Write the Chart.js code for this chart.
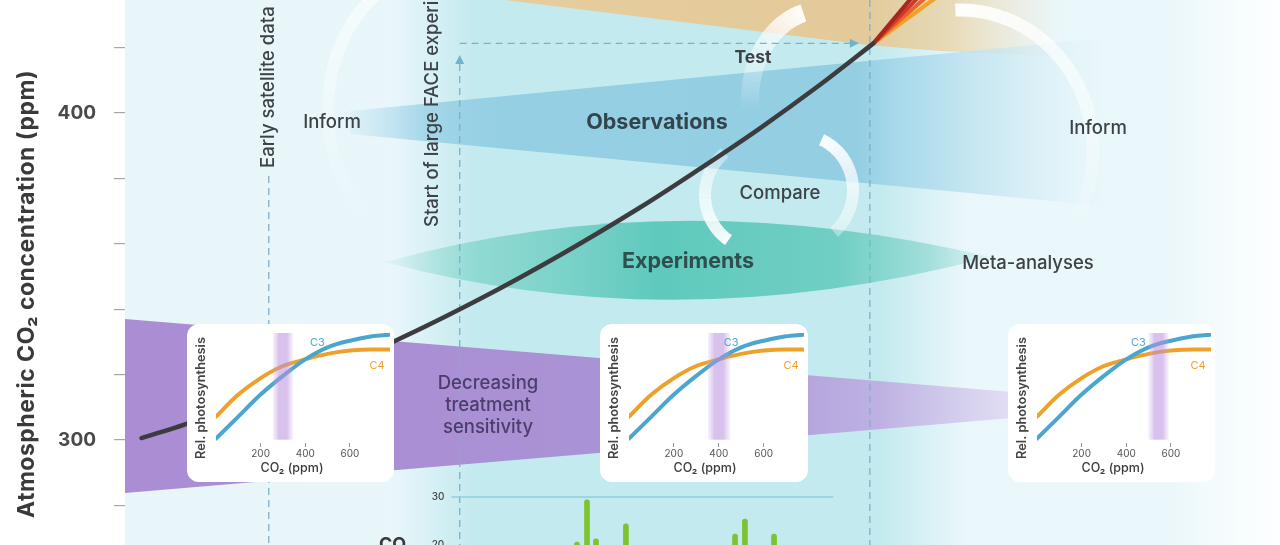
<!DOCTYPE html>
<html><head><meta charset="utf-8">
<script src="https://cdn.jsdelivr.net/npm/chart.js@4.4.1/dist/chart.umd.min.js"></script>
<style>
html,body{margin:0;padding:0;background:#fff;overflow:hidden}
#wrap{position:relative;width:1280px;height:545px;overflow:hidden}
#main{position:absolute;left:0;top:0}
.inset{position:absolute;background:#fff;border-radius:12px;overflow:hidden}
.inset canvas{display:block}
</style></head>
<body>
<div id="wrap">
  <canvas id="main" width="1280" height="545"></canvas>
  <div class="inset" style="left:187px;top:324px;width:207px;height:158px"><canvas id="in1" width="207" height="158"></canvas></div>
  <div class="inset" style="left:600px;top:324px;width:208px;height:158px"><canvas id="in2" width="208" height="158"></canvas></div>
  <div class="inset" style="left:1008px;top:324px;width:207px;height:158px"><canvas id="in3" width="207" height="158"></canvas></div>
</div>
<script>
// ---------------- data ----------------
const years = [1961.4, 1965.1, 1974.0, 1982.9, 1990.1, 1996.9, 2003.7, 2008.8, 2013.9, 2019.0, 2023.5];
const co2   = [300.6, 304.8, 316.5, 330.3, 343.1, 356.5, 371.1, 383.0, 395.4, 408.7, 421.3];
const projYears = [2029.0, 2029.9, 2031.0, 2032.5];
const projEndCo2 = 445;
const yTickValues = [280, 300, 320, 340, 360, 380, 400, 420];
const yTickLabels = [300, 400];
const satelliteYear = 1972.2;
const faceYear = 1988.4;
const nowYear = 2023.2;
const fertYears  = [1998.35, 1999.2, 1999.96, 2002.5, 2011.76, 2012.6, 2015.07];
const fertValues = [20.6, 29.4, 21.3, 24.4, 22.3, 25.4, 22.3];
const fertRefYears = [1987.7, 2020.1];
const fertRefValues = [30, 30];
const fertTickLabels = [30, 20];
// inset curves
const insetPpm = [0, 100, 200, 300, 400, 500, 600, 700, 775];
const c3Rel = [0.04, 0.24, 0.44, 0.61, 0.76, 0.87, 0.93, 0.97, 0.985];
const c4Rel = [0.24, 0.44, 0.59, 0.70, 0.76, 0.81, 0.84, 0.85, 0.85];
const insetTicks = [200, 400, 600];
const bands = [[255, 345], [352, 450], [500, 590]];
const c3LabelAt = [455, 0.91];
const c4LabelAt = [722, 0.70];

const FONT = 'Inter, "Open Sans", "DejaVu Sans", sans-serif';
const TXT = '#3d4246';

// ---------------- helpers ----------------
function fadeArc(ctx, cx, cy, rx, ry, a0, a1, w, al0, al1) {
  const N = 48;
  ctx.save();
  ctx.lineWidth = w; ctx.strokeStyle = '#ffffff'; ctx.lineCap = 'butt';
  for (let i = 0; i < N; i++) {
    const t0 = i / N, t1 = (i + 1.08) / N;
    const b0 = (a0 + (a1 - a0) * t0) * Math.PI / 180;
    const b1 = (a0 + (a1 - a0) * Math.min(t1, 1)) * Math.PI / 180;
    ctx.globalAlpha = al0 + (al1 - al0) * t0;
    ctx.beginPath();
    ctx.ellipse(cx, cy, rx, ry, 0, Math.min(b0, b1), Math.max(b0, b1));
    ctx.stroke();
  }
  ctx.restore();
}
function hGrad(ctx, x0, x1, stops) {
  const g = ctx.createLinearGradient(x0, 0, x1, 0);
  stops.forEach(s => g.addColorStop(s[0], s[1]));
  return g;
}
function dashedLine(ctx, x0, y0, x1, y1) {
  ctx.save();
  ctx.strokeStyle = '#78b3c8'; ctx.lineWidth = 1.3; ctx.setLineDash([7, 5]);
  ctx.beginPath(); ctx.moveTo(x0, y0); ctx.lineTo(x1, y1); ctx.stroke();
  ctx.restore();
}
function label(ctx, text, x, y, font, color, align) {
  ctx.save();
  ctx.font = font; ctx.fillStyle = color || TXT;
  ctx.textAlign = align || 'center'; ctx.textBaseline = 'middle';
  ctx.fillText(text, x, y);
  ctx.restore();
}
function vlabel(ctx, text, x, y, font, color, align, spacing) {
  ctx.save();
  ctx.translate(x, y); ctx.rotate(-Math.PI / 2);
  ctx.font = font; ctx.fillStyle = color || TXT;
  if (spacing) ctx.letterSpacing = spacing;
  ctx.textAlign = align || 'left'; ctx.textBaseline = 'middle';
  ctx.fillText(text, 0, 0);
  ctx.restore();
}

// ---------------- background / schematic plugin ----------------
const schematic = {
  id: 'schematic',
  beforeDraw(chart) {
    const ctx = chart.ctx;
    const {left, right, top, bottom} = chart.chartArea;
    const X = v => chart.scales.x.getPixelForValue(v);
    const Y = v => chart.scales.y.getPixelForValue(v);
    ctx.save();
    ctx.fillStyle = '#ffffff'; ctx.fillRect(0, 0, chart.width, chart.height);
    // pale background
    ctx.fillStyle = hGrad(ctx, left, right, [[0, '#e8f6fa'], [0.9, '#eaf7fb'], [0.965, '#f8fdfe'], [1, '#fcfeff']]);
    ctx.fillRect(left, top, right - left, bottom - top);
    // cyan experiment period
    const fx = X(faceYear), nx = X(nowYear);
    ctx.fillStyle = hGrad(ctx, fx - 65, nx + 95, [[0, 'rgba(195,234,238,0)'], [0.14, '#c3eaee'], [0.85, '#c3eaee'], [1, 'rgba(195,234,238,0)']]);
    ctx.fillRect(fx - 65, top, nx - fx + 160, bottom - top);

    // tan projection wedge
    ctx.fillStyle = hGrad(ctx, 505, 1065, [[0, '#e6cd9e'], [0.64, '#e4ca9a'], [0.8, 'rgba(233,212,168,0.8)'], [1, 'rgba(240,226,196,0)']]);
    ctx.beginPath();
    ctx.moveTo(505, 0); ctx.lineTo(X(nowYear), Y(co2[co2.length - 1]) + 2); ctx.lineTo(940, 51); ctx.lineTo(1065, 57); ctx.lineTo(1065, 0);
    ctx.closePath(); ctx.fill();

    // blue observations wedge
    ctx.fillStyle = hGrad(ctx, 350, 1105, [[0, 'rgba(165,212,232,0.15)'], [0.1, 'rgba(148,206,228,0.75)'], [0.2, '#94cfe4'], [0.67, '#93cee3'], [0.72, '#a6d8ea'], [0.86, 'rgba(195,229,241,0.7)'], [1, 'rgba(215,238,246,0)']]);
    ctx.beginPath();
    ctx.moveTo(350, 111); ctx.lineTo(1105, 38); ctx.lineTo(1105, 206); ctx.lineTo(350, 134);
    ctx.closePath(); ctx.fill();

    // teal experiments lens
    ctx.fillStyle = hGrad(ctx, 385, 990, [[0, 'rgba(140,215,205,0.1)'], [0.15, 'rgba(128,212,202,0.75)'], [0.45, '#5fc9bd'], [0.75, '#70cfc4'], [0.9, 'rgba(140,215,208,0.7)'], [1, 'rgba(160,222,215,0.2)']]);
    ctx.beginPath();
    ctx.moveTo(385, 262); ctx.quadraticCurveTo(675, 182, 990, 257); ctx.quadraticCurveTo(675, 340, 385, 262);
    ctx.closePath(); ctx.fill();

    // purple treatment sensitivity band
    ctx.fillStyle = hGrad(ctx, left, 1012, [[0, '#ab8dd4'], [0.35, '#aa8fd4'], [0.65, '#a995d6'], [0.85, '#beb1e2'], [1, 'rgba(222,216,242,0.8)']]);
    ctx.beginPath();
    ctx.moveTo(left, 319); ctx.lineTo(1012, 392); ctx.lineTo(1012, 418); ctx.lineTo(left, 493);
    ctx.closePath(); ctx.fill();

    // white cycle arrows
    fadeArc(ctx, 430, 110, 102, 135, -108, -228, 12, 0.65, 0.05);
    fadeArc(ctx, 960, 150, 133, 140, -92, 38, 13, 0.95, 0.05);
    fadeArc(ctx, 822, 100, 72, 90, -105, -186, 18, 1, 0.0);
    fadeArc(ctx, 760, 195, 55, 55, -130, -235, 12, 0.35, 1);
    fadeArc(ctx, 800, 190, 53, 55, -66, 50, 12, 1, 0.35);

    // event lines
    const sx = X(satelliteYear);
    dashedLine(ctx, sx, 176, sx, bottom);
    dashedLine(ctx, fx, 64, fx, bottom);
    dashedLine(ctx, nx, top, nx, bottom);
    const cy = Y(co2[co2.length - 1]);
    dashedLine(ctx, fx, cy, nx - 12, cy);
    ctx.fillStyle = '#6fb4cf';
    ctx.beginPath(); ctx.moveTo(fx, 55); ctx.lineTo(fx - 4.5, 64); ctx.lineTo(fx + 4.5, 64); ctx.closePath(); ctx.fill();
    ctx.beginPath(); ctx.moveTo(nx - 11, cy); ctx.lineTo(nx - 20, cy - 4.5); ctx.lineTo(nx - 20, cy + 4.5); ctx.closePath(); ctx.fill();
    ctx.restore();
  },
  afterDatasetsDraw(chart) {
    const ctx = chart.ctx;
    const X = v => chart.scales.x.getPixelForValue(v);
    const y2 = chart.scales.y2;
    const reg = '500 18.5px ' + FONT, bold = 'bold 21.5px ' + FONT;
    label(ctx, 'Inform', 332, 122, reg);
    label(ctx, 'Inform', 1098, 128, reg);
    label(ctx, 'Test', 753, 58, 'bold 17.5px ' + FONT);
    label(ctx, 'Observations', 657, 123, bold, '#33444d');
    label(ctx, 'Compare', 780, 193, reg);
    label(ctx, 'Experiments', 688, 262, bold, '#2f4f4f');
    label(ctx, 'Meta-analyses', 1028, 263, reg);
    const pc = '#4b3e6b';
    label(ctx, 'Decreasing', 488, 383, reg, pc);
    label(ctx, 'treatment', 488, 405, reg, pc);
    label(ctx, 'sensitivity', 488, 427, reg, pc);
    vlabel(ctx, 'Early satellite data', X(satelliteYear), 168, reg);
    vlabel(ctx, 'Start of large FACE experiments', X(faceYear) - 27, 227, reg);
    // fertilization panel labels
    fertTickLabels.forEach(v => label(ctx, String(v), 438, y2.getPixelForValue(v), '500 10px ' + FONT, '#444'));
    ctx.save();
    ctx.font = 'bold 18px ' + FONT; ctx.fillStyle = '#3a3a3a'; ctx.textBaseline = 'alphabetic';
    ctx.fillText('CO₂', 379, 550);
    ctx.restore();
    // y-axis title
    vlabel(ctx, 'Atmospheric CO₂ concentration (ppm)', 27, 294, 'bold 23px ' + FONT, '#3a3a3a', 'center', '0.5px');
  }
};

// ---------------- main chart ----------------
const projColors = ['#a5271f', '#d3372a', '#e9632b', '#f3a125'];
const datasets = [
  {
    label: 'Atmospheric CO2', yAxisID: 'y',
    data: years.map((x, i) => ({x, y: co2[i]})),
    borderColor: '#3c3c3f', borderWidth: 4.5, pointRadius: 0,
    tension: 0.35, borderCapStyle: 'round', order: 1
  },
  ...projYears.map((py, i) => ({
    label: 'Projection ' + (i + 1), yAxisID: 'y',
    data: [{x: years[years.length - 1], y: co2[co2.length - 1]}, {x: py, y: projEndCo2}],
    borderColor: projColors[i], borderWidth: 4, pointRadius: 0, order: 2
  })),
  {
    label: 'Reference 30', type: 'line', yAxisID: 'y2',
    data: fertRefYears.map((x, i) => ({x, y: fertRefValues[i]})),
    borderColor: '#8fcfe0', borderWidth: 1.5, pointRadius: 0, order: 4
  },
  {
    label: 'Fertilization', type: 'bar', yAxisID: 'y2',
    data: fertYears.map((x, i) => ({x, y: fertValues[i]})),
    backgroundColor: '#7cc42f', barThickness: 5, borderRadius: 2.5, borderSkipped: false, order: 3
  }
];

new Chart(document.getElementById('main'), {
  type: 'line',
  data: {datasets},
  options: {
    responsive: false, animation: false,
    layout: {padding: 0},
    plugins: {legend: {display: false}, tooltip: {enabled: false}},
    scales: {
      x: {type: 'linear', min: 1960, max: 2058, display: false, offset: false},
      y: {
        type: 'linear', min: 267.89, max: 434.56, position: 'left',
        afterBuildTicks(s) { s.ticks = yTickValues.map(v => ({value: v})); },
        afterFit(s) { s.width = 125; s.paddingTop = 0; s.paddingBottom = 0; },
        ticks: {
          callback: v => yTickLabels.includes(v) ? String(v) : '',
          font: {family: FONT, size: 19, weight: 'bold'}, color: '#4a4a4a', padding: 18
        },
        grid: {drawOnChartArea: false, drawTicks: true, tickLength: 11, color: '#a6a6a6', lineWidth: 1.2},
        border: {display: false}
      },
      y2: {type: 'linear', min: 20, max: 133.54, display: false}
    }
  },
  plugins: [schematic]
});

// ---------------- inset charts ----------------
const insetDeco = {
  id: 'insetDeco',
  afterDatasetsDraw(chart, args, opts) {
    const {ctx, scales: {x, y}} = chart;
    const [b0, b1] = opts.band;
    const xl = x.getPixelForValue(b0), xr = x.getPixelForValue(b1);
    const yt = y.getPixelForValue(1.0), yb = y.getPixelForValue(0.03);
    ctx.save();
    ctx.fillStyle = hGrad(ctx, xl, xr, [[0, 'rgba(200,165,228,0.15)'], [0.3, 'rgba(184,142,222,0.55)'], [0.7, 'rgba(184,142,222,0.55)'], [1, 'rgba(200,165,228,0.15)']]);
    ctx.fillRect(xl, yt, xr - xl, yb - yt);
    ctx.restore();
    label(ctx, 'C3', x.getPixelForValue(c3LabelAt[0]), y.getPixelForValue(c3LabelAt[1]), '11px ' + FONT, '#4ea7cf');
    label(ctx, 'C4', x.getPixelForValue(c4LabelAt[0]), y.getPixelForValue(c4LabelAt[1]), '11px ' + FONT, '#eda12e');
    vlabel(ctx, 'Rel. photosynthesis', 14, 74, '600 12.8px ' + FONT, '#444', 'center');
    label(ctx, 'CO₂ (ppm)', 105, 144, '500 12.5px ' + FONT, '#3a3a3a');
  }
};

function makeInset(id, band) {
  new Chart(document.getElementById(id), {
    type: 'line',
    data: {datasets: [
      {label: 'C3', data: insetPpm.map((x, i) => ({x, y: c3Rel[i]})), borderColor: '#4ba6cf', borderWidth: 4, pointRadius: 0, cubicInterpolationMode: 'monotone', borderCapStyle: 'round'},
      {label: 'C4', data: insetPpm.map((x, i) => ({x, y: c4Rel[i]})), borderColor: '#eea12a', borderWidth: 4, pointRadius: 0, cubicInterpolationMode: 'monotone', borderCapStyle: 'round'}
    ]},
    options: {
      responsive: false, animation: false,
      layout: {padding: {top: 9, right: 4, left: 0, bottom: 0}},
      plugins: {legend: {display: false}, tooltip: {enabled: false}, insetDeco: {band}},
      scales: {
        x: {
          type: 'linear', min: 0, max: 780,
          afterBuildTicks(s) { s.ticks = insetTicks.map(v => ({value: v})); },
          afterFit(s) { s.height = 39; s.paddingLeft = 0; s.paddingRight = 0; },
          ticks: {font: {family: FONT, size: 10}, color: '#555', padding: 1, maxRotation: 0},
          grid: {drawOnChartArea: false, drawTicks: true, tickLength: 4, color: '#999'},
          border: {display: false}
        },
        y: {
          type: 'linear', min: 0, max: 1,
          afterFit(s) { s.width = 29; },
          ticks: {display: false}, grid: {display: false}, border: {display: false}
        }
      }
    },
    plugins: [insetDeco]
  });
}
makeInset('in1', bands[0]);
makeInset('in2', bands[1]);
makeInset('in3', bands[2]);
</script>
</body></html>
